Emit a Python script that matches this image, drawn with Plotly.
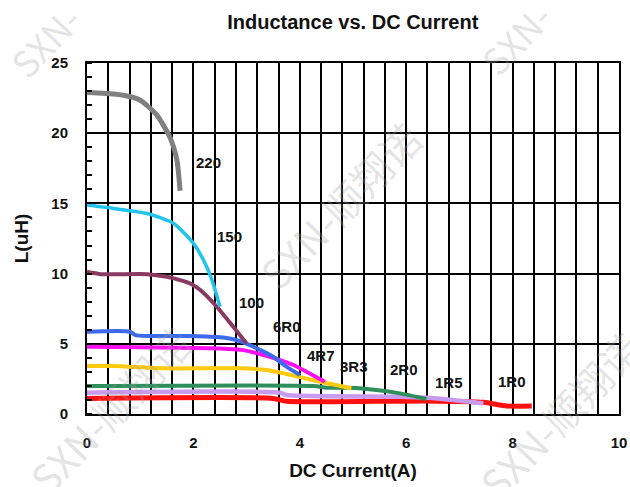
import plotly.graph_objects as go

# ---- data ----
names = ["1R0", "1R5", "2R0", "3R3", "4R7", "6R0", "100", "150", "220"]
colors = ["#FF1010", "#C99BEE", "#2E8F5C", "#FFC90E", "#FF10F0", "#3C6AEA", "#8A3A60", "#22C4EE", "#808080"]

i_1r0 = [0, 3.5, 3.75, 6.38, 7.45, 7.89, 8.36]
l_1r0 = [1.11, 1.11, 0.90, 0.93, 0.83, 0.57, 0.57]

i_1r5 = [0, 3.63, 3.75, 5.88, 6.38, 6.88, 7.45]
l_1r5 = [1.52, 1.52, 1.35, 1.23, 1.16, 1.00, 0.76]

i_2r0 = [0, 4.26, 4.51, 4.94, 5.44, 5.88, 6.38]
l_2r0 = [1.99, 1.99, 1.87, 1.87, 1.71, 1.47, 1.07]

i_3r3 = [0, 0.5, 1.44, 2.88, 3.38, 3.75, 4.38, 4.97]
l_3r3 = [3.42, 3.42, 3.25, 3.25, 3.13, 2.85, 2.30, 1.83]

i_4r7 = [0, 2.5, 2.94, 3.25, 3.63, 3.88, 4.47]
l_4r7 = [4.79, 4.67, 4.55, 4.27, 3.84, 3.49, 2.30]

i_6r0 = [0, 0.81, 0.91, 1.94, 2.5, 2.81, 3.13, 3.5, 3.75, 4.0]
l_6r0 = [5.86, 5.86, 5.62, 5.55, 5.46, 5.27, 4.79, 4.08, 3.37, 2.78]

i_100 = [0, 0.25, 1.13, 1.5, 1.75, 1.94, 2.13, 2.44, 2.75, 3.0]
l_100 = [10.13, 9.96, 9.96, 9.77, 9.54, 9.30, 8.83, 7.64, 6.21, 5.03]

i_150 = [0, 0.5, 1.13, 1.63, 2.0, 2.19, 2.35, 2.5]
l_150 = [14.88, 14.64, 14.28, 13.57, 12.15, 10.96, 9.54, 7.64]

i_220 = [0, 0.3, 0.69, 1.0, 1.31, 1.56, 1.69, 1.75]
l_220 = [22.9, 22.85, 22.7, 22.35, 21.3, 19.7, 18.1, 15.9]

currents = [i_1r0, i_1r5, i_2r0, i_3r3, i_4r7, i_6r0, i_100, i_150, i_220]
inductances = [l_1r0, l_1r5, l_2r0, l_3r3, l_4r7, l_6r0, l_100, l_150, l_220]
widths = [5, 4.5, 4, 4, 4, 4, 4, 3.5, 5]

# label positions (current, inductance)
label_x = [7.99, 6.80, 5.96, 5.02, 4.40, 3.76, 3.09, 2.67, 2.28]
label_y = [2.35, 2.25, 3.20, 3.40, 4.20, 6.20, 7.95, 12.65, 17.9]

x_ticks = [0, 2, 4, 6, 8, 10]
y_ticks = [0, 5, 10, 15, 20, 25]

FONT = "Liberation Sans, Arial, sans-serif"

fig = go.Figure()
for n, c, xs, ys, w in zip(names, colors, currents, inductances, widths):
    fig.add_trace(go.Scatter(x=xs, y=ys, mode="lines", name=n,
                             line=dict(color=c, width=w, shape="spline", smoothing=0.6),
                             showlegend=False, hoverinfo="x+y+name"))

annotations = []
for n, lx, ly in zip(names, label_x, label_y):
    annotations.append(dict(x=lx, y=ly, xref="x", yref="y", text=n, showarrow=False,
                            font=dict(family=FONT, size=15, color="#111111", weight="bold")))

# faint watermarks (paper coords, text)
wm_x = [0.476, 0.043, 0.889, -0.079, 0.805]
wm_y = [0.595, 0.011, -0.003, 1.066, 1.071]
wm_t = ["SXN-顺翔诺", "SXN-顺翔诺", "SXN-顺翔诺", "SXN-", "SXN-"]
wm_s = [40, 40, 40, 36, 36]
for wx, wy, wt, ws in zip(wm_x, wm_y, wm_t, wm_s):
    annotations.append(dict(x=wx, y=wy, xref="paper", yref="paper", text=wt,
                            xanchor="center", yanchor="middle",
                            showarrow=False, textangle=-46,
                            font=dict(family="Noto Sans CJK SC, sans-serif", size=ws,
                                      color="rgba(160,160,160,0.3)")))

fig.update_layout(
    width=630, height=487,
    margin=dict(l=87, r=11, t=63, b=73),
    paper_bgcolor="white", plot_bgcolor="white",
    title=dict(text="Inductance vs. DC Current", x=0.56, xanchor="center", y=0.955, yanchor="middle",
               font=dict(family=FONT, size=20, color="#111111", weight="bold")),
    annotations=annotations,
    xaxis=dict(range=[0, 10], tickvals=x_ticks, ticktext=[str(v) for v in x_ticks],
               showgrid=True, gridcolor="black", gridwidth=2,
               minor=dict(dtick=0.4, tick0=0, showgrid=True, gridcolor="black", gridwidth=2),
               showline=True, linecolor="black", linewidth=2, mirror=True,
               ticks="", ticklabelstandoff=14, zeroline=False, automargin=False,
               tickfont=dict(family=FONT, size=15, color="#111111", weight="bold"),
               title=dict(text="DC Current(A)", standoff=14,
                          font=dict(family=FONT, size=19, color="#111111", weight="bold"))),
    yaxis=dict(range=[0, 25], tickvals=y_ticks, ticktext=[str(v) for v in y_ticks],
               showgrid=True, gridcolor="black", gridwidth=2,
               minor=dict(dtick=1, tick0=0, ticks="inside", ticklen=5, tickwidth=2,
                          tickcolor="black", showgrid=False),
               showline=True, linecolor="black", linewidth=2, mirror=True,
               ticks="", ticklabelstandoff=14, zeroline=False, automargin=False,
               tickfont=dict(family=FONT, size=15, color="#111111", weight="bold"),
               title=dict(text="L(uH)", standoff=18,
                          font=dict(family=FONT, size=19, color="#111111", weight="bold"))),
)

fig.write_html("out.html", config={"displayModeBar": False},
               post_script="document.body.style.margin='0';document.body.style.padding='0';")
